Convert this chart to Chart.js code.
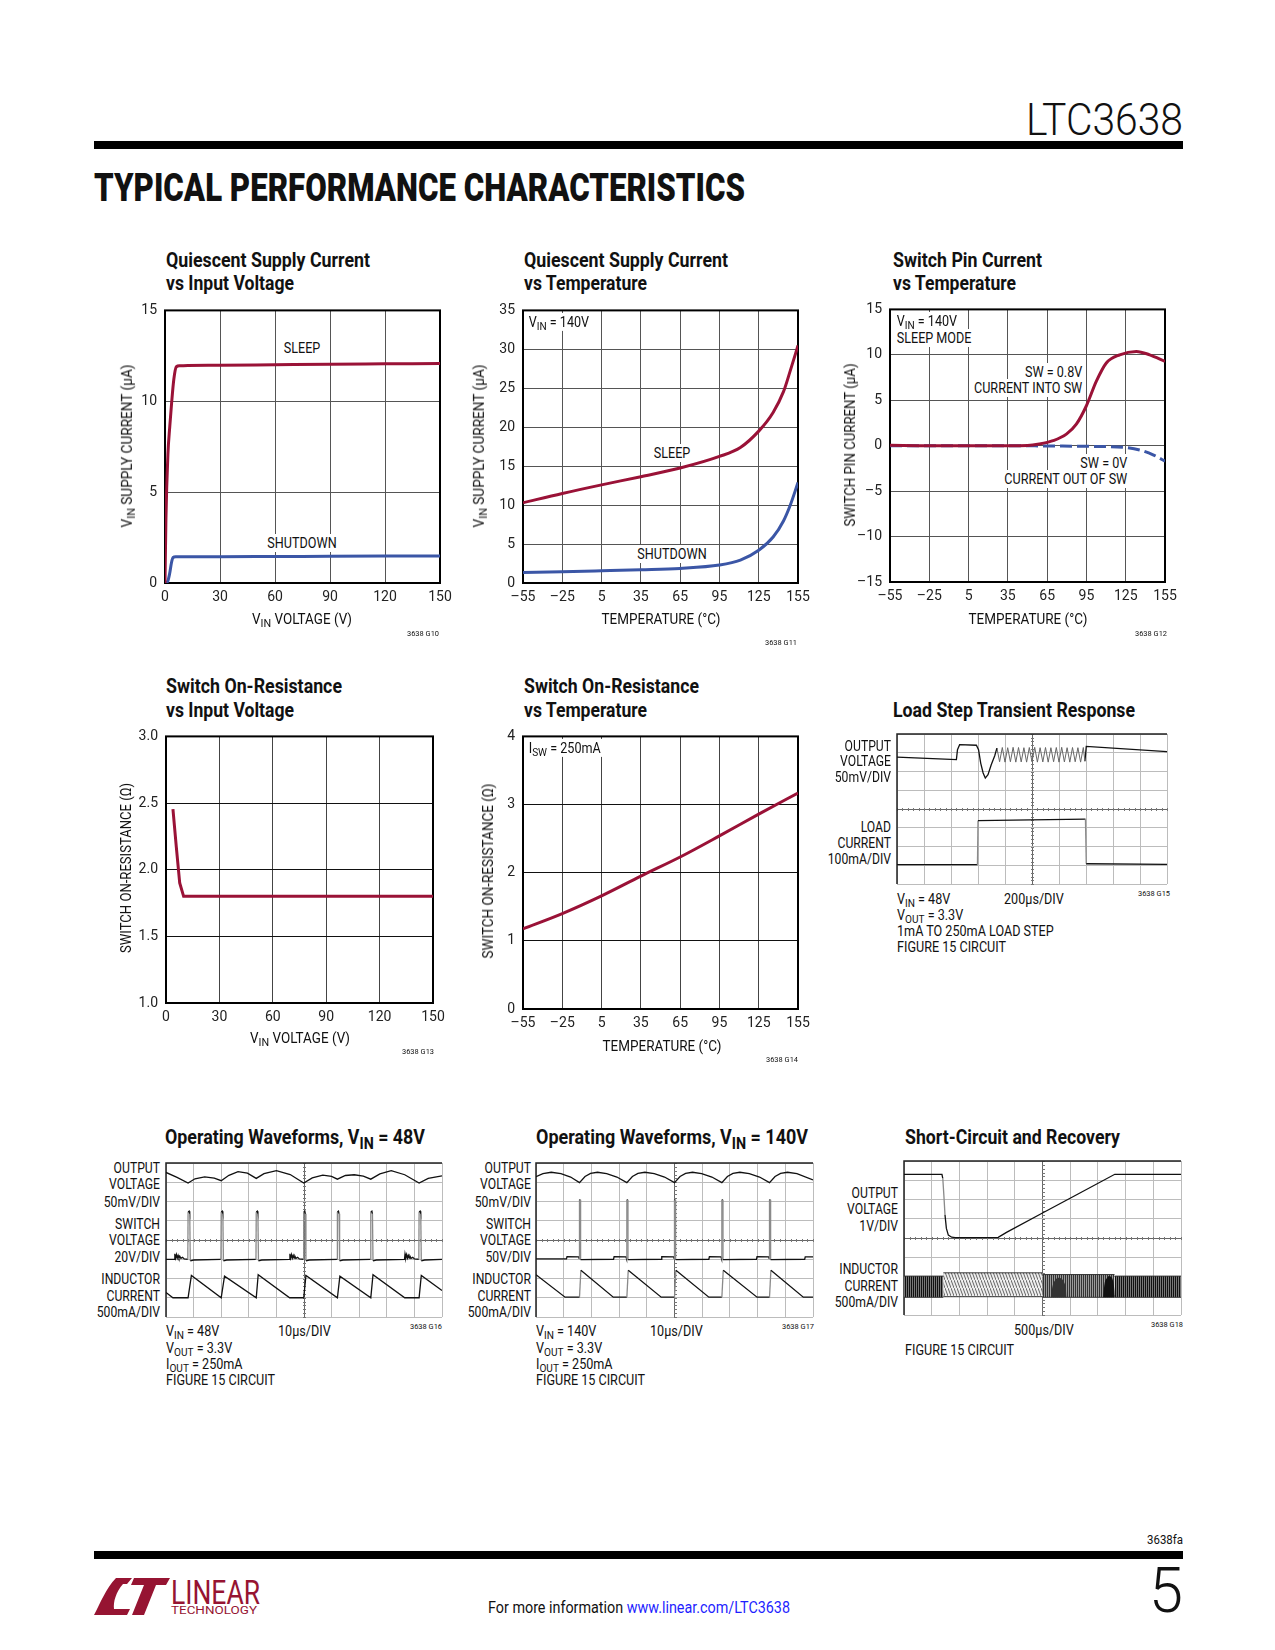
<!DOCTYPE html>
<html><head><meta charset="utf-8">
<script src="https://cdn.jsdelivr.net/npm/chart.js@4.4.1/dist/chart.umd.min.js"></script>
<style>
body{margin:0;background:#fff;}
#page{position:relative;width:1275px;height:1650px;overflow:hidden;background:#fff;font-family:Roboto,'Liberation Sans',sans-serif;color:#111;}
.t{position:absolute;white-space:nowrap;line-height:1;}
.t sub{font-size:0.8em;vertical-align:baseline;position:relative;top:0.28em;}
canvas{position:absolute;}
.bar{position:absolute;background:#000;}
</style></head>
<body><div id="page"></div>
<script>
// ---------------- DATA ----------------
// Quiescent supply current vs input voltage
const qv_vin      = [0, 0.5, 1.6, 2.6, 3.6, 4.8, 6.2, 8, 10, 30, 60, 90, 120, 150];
const qv_sleep    = [0, 3.5, 7.1, 8.6, 9.9, 11.2, 11.9, 11.95, 11.96, 11.98, 12.01, 12.04, 12.06, 12.08];
const qv_vin_sd   = [0, 1.5, 2.5, 3.5, 4.4, 6, 10, 30, 60, 90, 120, 150];
const qv_shutdown = [0, 0.1, 0.5, 1.1, 1.4, 1.44, 1.45, 1.45, 1.46, 1.47, 1.48, 1.49];
// Quiescent supply current vs temperature
const qt_temp     = [-55, -25, 5, 35, 65, 95, 111, 125, 136, 144, 149, 155];
const qt_sleep    = [10.3, 11.5, 12.6, 13.65, 14.76, 16.25, 17.4, 19.5, 21.9, 24.6, 27.2, 30.5];
const qt_shutdown = [1.36, 1.45, 1.57, 1.7, 1.87, 2.3, 2.93, 4.2, 5.9, 8.0, 9.95, 12.9];
// Switch pin current vs temperature
const sp_temp     = [-55, -25, 5, 35, 50, 59, 69.5, 79.7, 87.3, 94.9, 102.6, 110.2, 120.4, 133.1, 143.3, 155];
const sp_into     = [0.05, 0, 0, 0, 0.02, 0.18, 0.55, 1.27, 2.37, 4.37, 7.1, 9.1, 10.0, 10.38, 10.0, 9.28];
const sp_temp_out = [-55, -25, 5, 35, 65, 97.5, 123, 135.6, 145.9, 155];
const sp_out      = [0, 0, 0, 0, -0.03, -0.07, -0.18, -0.47, -1.0, -1.7];
// Switch on-resistance vs input voltage
const rv_vin      = [3.9, 5.8, 7.7, 9.9, 30, 60, 90, 120, 150];
const rv_res      = [2.455, 2.17, 1.90, 1.80, 1.80, 1.80, 1.80, 1.80, 1.80];
// Switch on-resistance vs temperature
const rt_temp     = [-55, -25, 5, 35, 65, 95, 125, 155];
const rt_res      = [1.176, 1.40, 1.66, 1.95, 2.23, 2.54, 2.86, 3.17];
// tick labels
const xt_volt = [0, 30, 60, 90, 120, 150];
const xt_temp = [-55, -25, 5, 35, 65, 95, 125, 155];
const yt_q1 = [0, 5, 10, 15];
const yt_q2 = [0, 5, 10, 15, 20, 25, 30, 35];
const yt_sp = [-15, -10, -5, 0, 5, 10, 15];
const yt_r1 = [1.0, 1.5, 2.0, 2.5, 3.0];
const yt_r2 = [0, 1, 2, 3, 4];

// Scope traces, [time div, level div] (10 x 8 divisions)
const lsVoutA = [[0,6.77],[2.20,6.63],[2.24,7.16],[2.32,7.43],[2.94,7.40],[3.02,7.16],[3.10,6.45],[3.19,5.92],[3.27,5.65],[3.37,5.83],[3.49,6.36],[3.62,6.84],[3.70,7.25]];
const lsRipple = [[3.70,7.25],[3.80,6.52],[3.90,7.28],[4.00,6.50],[4.10,7.27],[4.20,6.52],[4.30,7.29],[4.40,6.50],[4.50,7.28],[4.60,6.51],[4.70,7.27],[4.80,6.50],[4.90,7.28],[5.00,6.52],[5.10,7.29],[5.20,6.50],[5.30,7.27],[5.40,6.51],[5.50,7.28],[5.60,6.50],[5.70,7.27],[5.80,6.52],[5.90,7.28],[6.00,6.50],[6.10,7.29],[6.20,6.51],[6.30,7.27],[6.40,6.50],[6.50,7.28],[6.60,6.52],[6.70,7.27],[6.80,6.50],[6.90,7.28],[6.96,6.55]];
const lsVoutB = [[6.96,6.55],[7.01,7.34],[10,7.06]];
const lsLoad = [[0,1.03],[2.98,1.03],[3.00,3.38],[4.30,3.41],[6.98,3.46],[7.01,1.08],[10,1.05]];

const ow48Vout = [[0,7.51],[0.40,7.25],[0.80,6.96],[1.05,7.18],[1.40,7.28],[1.75,7.21],[2.00,7.08],[2.28,7.36],[2.61,7.55],[2.95,7.47],[3.27,7.20],[3.55,7.45],[4.00,7.60],[4.50,7.40],[4.99,6.96],[5.30,7.23],[5.68,7.37],[6.00,7.30],[6.21,7.16],[6.50,7.35],[6.82,7.39],[7.15,7.32],[7.42,7.16],[7.75,7.43],[8.16,7.60],[8.65,7.39],[9.17,6.96],[9.50,7.20],[10,7.33]];
const ow48Sw = [[0,2.99],[0.30,2.99],[0.32,3.28],[0.35,3.06],[0.38,3.24],[0.41,3.06],[0.44,3.2],[0.47,3.06],[0.50,3.16],[0.54,3.05],[0.60,3.1],[0.66,3.02],[0.79,3.0],
 [0.80,5.45],[0.84,5.50],[0.86,5.36],[0.88,2.92],[1.00,2.96],
 [1.99,2.99],[2.00,5.45],[2.04,5.50],[2.06,5.36],[2.08,2.92],[2.20,2.96],
 [3.26,2.99],[3.27,5.45],[3.31,5.50],[3.33,5.36],[3.35,2.92],[3.47,2.96],
 [4.47,2.99],[4.49,3.28],[4.52,3.06],[4.55,3.24],[4.58,3.06],[4.61,3.2],[4.64,3.06],[4.67,3.16],[4.71,3.05],[4.77,3.1],[4.83,3.02],[4.98,3.0],
 [4.99,5.45],[5.03,5.50],[5.05,5.36],[5.07,2.92],[5.19,2.96],
 [6.20,2.99],[6.21,5.45],[6.25,5.50],[6.27,5.36],[6.29,2.92],[6.41,2.96],
 [7.41,2.99],[7.42,5.45],[7.46,5.50],[7.48,5.36],[7.50,2.92],[7.62,2.96],
 [8.64,2.99],[8.66,3.28],[8.69,3.06],[8.72,3.24],[8.75,3.06],[8.78,3.2],[8.81,3.06],[8.84,3.16],[8.88,3.05],[8.94,3.1],[9.00,3.02],[9.16,3.0],
 [9.17,5.45],[9.21,5.50],[9.23,5.36],[9.25,2.92],[9.37,2.96],[10,2.99]];
const ow48IL = [[0,1.27],[0.25,1.0],[0.80,1.0],[0.92,2.16],[2.00,1.0],[2.12,2.12],[3.27,1.0],[3.34,2.20],[4.48,1.0],[4.99,1.0],[5.07,2.16],[6.21,1.0],[6.30,2.12],[7.42,1.0],[7.50,2.20],[8.65,1.0],[9.17,1.0],[9.25,2.16],[10,1.38]];

const ow140Vout = [[0,7.29],[0.25,7.45],[0.55,7.52],[0.90,7.45],[1.25,7.27],[1.57,6.98],[1.77,7.30],[1.97,7.46],[2.22,7.52],[2.55,7.45],[2.92,7.27],[3.28,6.98],[3.48,7.30],[3.68,7.46],[3.93,7.52],[4.27,7.45],[4.64,7.27],[5.00,6.98],[5.20,7.30],[5.40,7.46],[5.65,7.52],[5.98,7.45],[6.35,7.27],[6.71,6.98],[6.91,7.30],[7.11,7.46],[7.36,7.52],[7.70,7.45],[8.07,7.27],[8.43,6.98],[8.63,7.30],[8.83,7.46],[9.08,7.52],[9.42,7.45],[10,7.12]];
const ow140Sw = [[0,3.02],[1.10,3.02],[1.12,3.14],[1.54,3.12],[1.56,3.02],[1.57,6.09],[1.60,6.09],[1.61,2.98],[2.80,3.0],[2.82,3.14],[3.25,3.12],[3.27,3.02],[3.28,6.09],[3.31,6.09],[3.32,2.98],[4.52,3.0],[4.54,3.14],[4.97,3.12],[4.99,3.02],[5.00,6.09],[5.03,6.09],[5.04,2.98],[6.24,3.0],[6.26,3.14],[6.68,3.12],[6.70,3.02],[6.71,6.09],[6.74,6.09],[6.75,2.98],[7.96,3.0],[7.98,3.14],[8.40,3.12],[8.42,3.02],[8.43,6.09],[8.46,6.09],[8.47,2.98],[9.70,3.0],[9.72,3.12],[10,3.12]];
const ow140IL = [[0,2.20],[1.05,1.03],[1.57,1.03],[1.62,2.43],[2.79,1.03],[3.28,1.03],[3.33,2.43],[4.52,1.03],[5.00,1.03],[5.05,2.43],[6.24,1.03],[6.71,1.03],[6.76,2.43],[7.98,1.03],[8.43,1.03],[8.48,2.43],[9.65,1.03],[10,1.03]];

const scVout = [[0,7.31],[1.37,7.31],[1.40,7.1],[1.44,6.2],[1.48,5.2],[1.53,4.5],[1.60,4.15],[1.72,4.04],[1.85,4.02],[3.40,4.03],[3.55,4.16],[3.70,4.29],[5.00,5.30],[6.30,6.30],[7.61,7.31],[10,7.31]];
const scBand1Up = [[0,2.02],[1.42,2.02]], scBand1Lo = [[0,0.92],[1.42,0.92]];
const scBand2Up = [[1.42,2.19],[5.0,2.19]], scBand2Lo = [[1.42,0.95],[5.0,0.95]];
const scBand3Up = [[5.0,2.1],[7.6,2.1]],   scBand3Lo = [[5.0,0.92],[7.6,0.92]];
const scBand4Up = [[7.6,2.02],[10,2.02]],  scBand4Lo = [[7.6,0.92],[10,0.92]];
const scDome1 = [[5.3,0.92],[5.38,1.6],[5.5,1.88],[5.6,1.93],[5.72,1.85],[5.82,1.55],[5.87,0.92]];
const scDome2 = [[7.19,0.92],[7.25,1.7],[7.35,1.97],[7.42,2.02],[7.52,1.9],[7.58,1.5],[7.61,0.92]];

// ---------------- HELPERS ----------------
const page = document.getElementById('page');
const RED = '#9a1237', BLUE = '#3b56a6';
Chart.defaults.font.family = 'Roboto';

function T(x, y, html, o) {
  o = o || {};
  const e = document.createElement('div');
  e.className = 't'; e.innerHTML = html;
  e.style.fontSize = (o.fs || 14) + 'px';
  e.style.fontWeight = o.fw || 400;
  if (o.col) e.style.color = o.col;
  const a = o.a || 'l';
  let pad = 0;
  if (o.bg) { e.style.background = '#fff'; e.style.padding = '2px 3px'; pad = 6; if (a === 'l') x -= 3; if (a === 'r') x += 3; }
  e.style.left = x + 'px'; e.style.top = y + 'px';
  page.appendChild(e);
  let s = o.sx || 0.9;
  if (o.w) s = o.w / (e.getBoundingClientRect().width - pad);
  if (o.rot) {
    e.style.transformOrigin = '50% 50%';
    e.style.transform = `translate(-50%,-50%) rotate(-90deg) scaleX(${s})`;
  } else {
    const tx = a === 'l' ? '0' : a === 'r' ? '-100%' : '-50%';
    const ox = a === 'l' ? '0%' : a === 'r' ? '100%' : '50%';
    e.style.transformOrigin = ox + ' 50%';
    e.style.transform = `translate(${tx},-50%) scaleX(${s})`;
  }
  return e;
}
function bar(x, y, w, h) {
  const d = document.createElement('div'); d.className = 'bar';
  Object.assign(d.style, {left: x + 'px', top: y + 'px', width: w + 'px', height: h + 'px'});
  page.appendChild(d);
}
function mkCanvas(x, y, w, h) {
  const c = document.createElement('canvas');
  c.width = w; c.height = h;
  Object.assign(c.style, {left: x + 'px', top: y + 'px', width: w + 'px', height: h + 'px'});
  page.appendChild(c);
  return c;
}
const xy = (xs, ys) => xs.map((x, i) => ({x: x, y: ys[i]}));
const pts = arr => arr.map(p => ({x: p[0], y: p[1]}));
const dash = v => (v < 0 ? '\u2013' + Math.abs(v) : String(v));

const framePlugin = {id: 'frame', beforeDatasetsDraw(ch) {
  const {ctx, chartArea: a} = ch;
  ctx.save(); ctx.strokeStyle = '#000'; ctx.lineWidth = 2;
  ctx.strokeRect(a.left, a.top, a.right - a.left, a.bottom - a.top);
  ctx.restore();
}};

function axisChart(L, Tp, W, H, c) {
  const cv = mkCanvas(L - 60, Tp - 15, W + 85, H + 45);
  return new Chart(cv, {
    type: 'line',
    data: {datasets: c.datasets},
    options: {
      responsive: false, animation: false,
      layout: {padding: {top: 15, right: 25, left: 0, bottom: 0}},
      plugins: {legend: {display: false}, tooltip: {enabled: false}},
      elements: {point: {radius: 0}},
      scales: {
        x: {type: 'linear', min: c.xmin, max: c.xmax,
            afterBuildTicks: s => { s.ticks = c.xticks.map(v => ({value: v})); },
            afterFit: s => { s.height = 30; },
            ticks: {padding: 6, maxRotation: 0, autoSkip: false, color: '#222', font: {size: 14}, callback: v => dash(v)},
            grid: {color: c.vgrid || '#555', lineWidth: 1, drawTicks: false},
            border: {display: false}},
        y: {type: 'linear', min: c.ymin, max: c.ymax,
            afterBuildTicks: s => { s.ticks = c.yticks.map(v => ({value: v})); },
            afterFit: s => { s.width = 60; },
            ticks: {padding: 8, color: '#222', font: {size: 14}, callback: c.yfmt || (v => dash(v))},
            grid: {color: c.hgrid || '#555', lineWidth: 1, drawTicks: false},
            border: {display: false}}
      }
    },
    plugins: [framePlugin]
  });
}
function curve(data, color, extra) {
  return Object.assign({data: data, borderColor: color, borderWidth: 3, pointRadius: 0, cubicInterpolationMode: 'monotone', fill: false}, extra || {});
}

const scopePlugin = {id: 'scope', beforeDatasetsDraw(ch) {
  const {ctx, chartArea: a, scales: {x, y}} = ch;
  ctx.save();
  ctx.strokeStyle = '#777'; ctx.lineWidth = 1;
  const cx = Math.round(x.getPixelForValue(5)) + 0.5, cy = Math.round(y.getPixelForValue(4)) + 0.5;
  ctx.beginPath();
  for (let i = 0; i <= 50; i++) { const px = Math.round(x.getPixelForValue(i * 0.2)) + 0.5; ctx.moveTo(px, cy - 1.5); ctx.lineTo(px, cy + 1.5); }
  for (let i = 0; i <= 40; i++) { const py = Math.round(y.getPixelForValue(i * 0.2)) + 0.5; ctx.moveTo(cx - 1.5, py); ctx.lineTo(cx + 1.5, py); }
  ctx.stroke();
  ctx.strokeStyle = '#222'; ctx.lineWidth = 1.5;
  ctx.beginPath(); ctx.moveTo(a.left, a.bottom); ctx.lineTo(a.left, a.top); ctx.lineTo(a.right, a.top); ctx.stroke();
  ctx.restore();
}};
function scopeChart(L, Tp, W, H, datasets) {
  const cv = mkCanvas(L - 1, Tp - 1, W + 2, H + 2);
  return new Chart(cv, {
    type: 'line',
    data: {datasets: datasets},
    options: {
      responsive: false, animation: false,
      layout: {padding: 1},
      plugins: {legend: {display: false}, tooltip: {enabled: false}},
      elements: {point: {radius: 0}},
      scales: {
        x: {type: 'linear', min: 0, max: 10, ticks: {display: false, stepSize: 1}, afterFit: s => { s.height = 0; },
            grid: {drawTicks: false, lineWidth: 1, color: c => (c.tick && c.tick.value === 5 ? '#666' : '#bcbcbc')}, border: {display: false}},
        y: {type: 'linear', min: 0, max: 8, ticks: {display: false, stepSize: 1}, afterFit: s => { s.width = 0; },
            grid: {drawTicks: false, lineWidth: 1, color: c => (c.tick && c.tick.value === 4 ? '#666' : '#bcbcbc')}, border: {display: false}}
      }
    },
    plugins: [scopePlugin]
  });
}
const fastGray = {borderColor: c => (Math.abs((c.p1.parsed.y - c.p0.parsed.y) / ((c.p1.parsed.x - c.p0.parsed.x) || 1e-6)) > 20 ? '#8a8a8a' : undefined)};
function trace(arr, color, w) {
  return {data: pts(arr), borderColor: color || '#111', borderWidth: w || 1.3, pointRadius: 0, tension: 0, fill: false, segment: fastGray};
}
function pattern(w, h, draw) {
  const c = document.createElement('canvas'); c.width = w; c.height = h;
  const g = c.getContext('2d'); draw(g);
  return g.createPattern(c, 'repeat');
}

// ---------------- HEADER / FOOTER ----------------
T(1183, 119, 'LTC3638', {a: 'r', fs: 45, fw: 300, w: 157});
bar(94, 141, 1089, 8);
T(94, 188, 'TYPICAL PERFORMANCE CHARACTERISTICS', {fs: 39, fw: 900, w: 651});
T(1183, 1540, '3638fa', {a: 'r', fs: 12, w: 36});
bar(94, 1551, 1089, 8);
T(488, 1608, 'For more information <span style="color:#1f1fff">www.linear.com/LTC3638</span>', {fs: 16, w: 302});
T(1183, 1590, '5', {a: 'r', fs: 63, fw: 300, w: 34});
(function logo() {
  const ns = 'http://www.w3.org/2000/svg';
  const s = document.createElementNS(ns, 'svg');
  s.setAttribute('width', '78'); s.setAttribute('height', '38');
  Object.assign(s.style, {position: 'absolute', left: '94px', top: '1578px'});
  s.innerHTML = '<path d="M22,0 L38,0 L33,6 L29,6 C22,14 19,24 20,31 L36,31 L33,37 L0,37 C6,26 12,10 22,0 Z" fill="#961432"/>' +
    '<path d="M40,0 L76,0 L72,7 L62,7 L50,37 L38,37 L50,7 L37,7 Z" fill="#961432"/>';
  page.appendChild(s);
})();
T(171, 1592, 'LINEAR', {fs: 34, fw: 400, w: 89, col: '#961432'});
T(171, 1610, 'TECHNOLOGY', {fs: 11, w: 86, col: '#961432'});

// ---------------- CHART 1 ----------------
T(166, 259.5, 'Quiescent Supply Current', {fs: 21, fw: 700, w: 204});
T(166, 282.5, 'vs Input Voltage', {fs: 21, fw: 700, w: 128});
axisChart(165, 309, 275, 274, {xmin: 0, xmax: 150, xticks: xt_volt, ymin: 0, ymax: 15, yticks: yt_q1,
  datasets: [curve(xy(qv_vin, qv_sleep), RED), curve(xy(qv_vin_sd, qv_shutdown), BLUE)]});
T(127, 446, 'V<sub>IN</sub> SUPPLY CURRENT (\u00b5A)', {rot: 1, w: 163});
T(302, 619, 'V<sub>IN</sub> VOLTAGE (V)', {a: 'c', w: 100});
T(302, 348, 'SLEEP', {a: 'c', bg: 1});
T(302, 543, 'SHUTDOWN', {a: 'c', bg: 1});
T(439, 634, '3638 G10', {a: 'r', fs: 8, w: 32});

// ---------------- CHART 2 ----------------
T(524, 259.5, 'Quiescent Supply Current', {fs: 21, fw: 700, w: 204});
T(524, 282.5, 'vs Temperature', {fs: 21, fw: 700, w: 123});
axisChart(523, 309, 275, 274, {xmin: -55, xmax: 155, xticks: xt_temp, ymin: 0, ymax: 35, yticks: yt_q2,
  datasets: [curve(xy(qt_temp, qt_sleep), RED), curve(xy(qt_temp, qt_shutdown), BLUE)]});
T(479, 446, 'V<sub>IN</sub> SUPPLY CURRENT (\u00b5A)', {rot: 1, w: 163});
T(661, 619, 'TEMPERATURE (\u00b0C)', {a: 'c', w: 119});
T(529, 322, 'V<sub>IN</sub> = 140V', {bg: 1});
T(672, 453, 'SLEEP', {a: 'c', bg: 1});
T(672, 554, 'SHUTDOWN', {a: 'c', bg: 1});
T(797, 643, '3638 G11', {a: 'r', fs: 8, w: 32});

// ---------------- CHART 3 ----------------
T(893, 259.5, 'Switch Pin Current', {fs: 21, fw: 700, w: 149});
T(893, 282.5, 'vs Temperature', {fs: 21, fw: 700, w: 123});
axisChart(890, 308, 275, 274, {xmin: -55, xmax: 155, xticks: xt_temp, ymin: -15, ymax: 15, yticks: yt_sp,
  datasets: [curve(xy(sp_temp, sp_into), RED), curve(xy(sp_temp_out, sp_out), BLUE, {borderDash: [12, 5]})]});
T(850, 445, 'SWITCH PIN CURRENT (\u00b5A)', {rot: 1, w: 163});
T(1028, 619, 'TEMPERATURE (\u00b0C)', {a: 'c', w: 119});
T(897, 321, 'V<sub>IN</sub> = 140V', {bg: 1});
T(897, 338, 'SLEEP MODE', {bg: 1});
T(1082, 372, 'SW = 0.8V', {a: 'r', bg: 1});
T(1082, 388, 'CURRENT INTO SW', {a: 'r', bg: 1});
T(1127, 463, 'SW = 0V', {a: 'r', bg: 1});
T(1127, 479, 'CURRENT OUT OF SW', {a: 'r', bg: 1});
T(1167, 634, '3638 G12', {a: 'r', fs: 8, w: 32});

// ---------------- CHART 4 ----------------
T(166, 686, 'Switch On-Resistance', {fs: 21, fw: 700, w: 176});
T(166, 710, 'vs Input Voltage', {fs: 21, fw: 700, w: 128});
axisChart(166, 735, 267, 268, {xmin: 0, xmax: 150, xticks: xt_volt, ymin: 1, ymax: 3, yticks: yt_r1, yfmt: v => v.toFixed(1),
  hgrid: '#111', vgrid: '#444',
  datasets: [curve(xy(rv_vin, rv_res), RED, {cubicInterpolationMode: 'default', tension: 0})]});
T(126, 868, 'SWITCH ON-RESISTANCE (\u03a9)', {rot: 1, w: 170});
T(300, 1038, 'V<sub>IN</sub> VOLTAGE (V)', {a: 'c', w: 100});
T(434, 1052, '3638 G13', {a: 'r', fs: 8, w: 32});

// ---------------- CHART 5 ----------------
T(524, 686, 'Switch On-Resistance', {fs: 21, fw: 700, w: 175});
T(524, 710, 'vs Temperature', {fs: 21, fw: 700, w: 123});
axisChart(523, 735, 275, 274, {xmin: -55, xmax: 155, xticks: xt_temp, ymin: 0, ymax: 4, yticks: yt_r2,
  hgrid: '#111', vgrid: '#444',
  datasets: [curve(xy(rt_temp, rt_res), RED)]});
T(488, 871, 'SWITCH ON-RESISTANCE (\u03a9)', {rot: 1, w: 175});
T(662, 1046, 'TEMPERATURE (\u00b0C)', {a: 'c', w: 119});
T(529, 748, 'I<sub>SW</sub> = 250mA', {bg: 1});
T(798, 1060, '3638 G14', {a: 'r', fs: 8, w: 32});

// ---------------- CHART 6: LOAD STEP ----------------
T(893, 710, 'Load Step Transient Response', {fs: 21, fw: 700, w: 242});
scopeChart(897, 734, 270, 150, [trace(lsVoutA), trace(lsRipple, '#666', 1), trace(lsVoutB), trace(lsLoad)]);
[['OUTPUT', 746], ['VOLTAGE', 761], ['50mV/DIV', 777], ['LOAD', 827], ['CURRENT', 843], ['100mA/DIV', 859]].forEach(p => T(891, p[1], p[0], {a: 'r', sx: 0.87}));
T(897, 899, 'V<sub>IN</sub> = 48V');
T(1004, 899, '200\u00b5s/DIV');
T(897, 915, 'V<sub>OUT</sub> = 3.3V');
T(897, 931, '1mA TO 250mA LOAD STEP');
T(897, 947, 'FIGURE 15 CIRCUIT');
T(1170, 894, '3638 G15', {a: 'r', fs: 8, w: 32});

// ---------------- CHART 7: 48V ----------------
T(165, 1137, 'Operating Waveforms, V<sub>IN</sub> = 48V', {fs: 21, fw: 700, w: 260});
scopeChart(166, 1163, 276, 154, [trace(ow48Vout), trace(ow48Sw), trace(ow48IL)]);
const scopeLbl3 = (xr, sw) => [['OUTPUT', 1168], ['VOLTAGE', 1184], ['50mV/DIV', 1202], ['SWITCH', 1224], ['VOLTAGE', 1240], [sw, 1257], ['INDUCTOR', 1279], ['CURRENT', 1296], ['500mA/DIV', 1312]].forEach(p => T(xr, p[1], p[0], {a: 'r', sx: 0.87}));
scopeLbl3(160, '20V/DIV');
T(166, 1331, 'V<sub>IN</sub> = 48V');
T(278, 1331, '10\u00b5s/DIV');
T(166, 1348, 'V<sub>OUT</sub> = 3.3V');
T(166, 1364, 'I<sub>OUT</sub> = 250mA');
T(166, 1380, 'FIGURE 15 CIRCUIT');
T(442, 1327, '3638 G16', {a: 'r', fs: 8, w: 32});

// ---------------- CHART 8: 140V ----------------
T(536, 1137, 'Operating Waveforms, V<sub>IN</sub> = 140V', {fs: 21, fw: 700, w: 272});
scopeChart(536, 1163, 277, 154, [trace(ow140Vout), trace(ow140Sw), trace(ow140IL)]);
scopeLbl3(531, '50V/DIV');
T(536, 1331, 'V<sub>IN</sub> = 140V');
T(650, 1331, '10\u00b5s/DIV');
T(536, 1348, 'V<sub>OUT</sub> = 3.3V');
T(536, 1364, 'I<sub>OUT</sub> = 250mA');
T(536, 1380, 'FIGURE 15 CIRCUIT');
T(814, 1327, '3638 G17', {a: 'r', fs: 8, w: 32});

// ---------------- CHART 9: SHORT CIRCUIT ----------------
T(905, 1137, 'Short-Circuit and Recovery', {fs: 21, fw: 700, w: 215});
const pDark = pattern(2, 4, g => { g.fillStyle = '#777'; g.fillRect(0, 0, 2, 4); g.fillStyle = '#111'; g.fillRect(0, 0, 1, 4); });
const pMid = pattern(2, 4, g => { g.fillStyle = '#9a9a9a'; g.fillRect(0, 0, 2, 4); g.fillStyle = '#333'; g.fillRect(0, 0, 1, 4); });
const pLight = pattern(3, 8, g => { g.fillStyle = '#eee'; g.fillRect(0, 0, 3, 8); g.strokeStyle = '#666'; g.lineWidth = 1; g.beginPath(); g.moveTo(0, 0); g.lineTo(3, 8); g.stroke(); });
const band = (arr, col, fillOpt) => ({data: pts(arr), borderColor: '#333', borderWidth: 1, pointRadius: 0, tension: 0, fill: fillOpt, backgroundColor: col});
scopeChart(904, 1161, 277, 154, [
  trace(scVout),
  {data: pts(scDome2), borderWidth: 0, pointRadius: 0, tension: 0.3, fill: {value: 0.92}, backgroundColor: '#111'},
  {data: pts(scDome1), borderWidth: 0, pointRadius: 0, tension: 0.3, fill: {value: 0.92}, backgroundColor: '#333'},
  band(scBand1Up, pDark, false), band(scBand1Lo, pDark, '-1'),
  band(scBand2Up, pLight, false), band(scBand2Lo, pLight, '-1'),
  band(scBand3Up, pMid, false), band(scBand3Lo, pMid, '-1'),
  band(scBand4Up, pDark, false), band(scBand4Lo, pDark, '-1')
]);
[['OUTPUT', 1193], ['VOLTAGE', 1209], ['1V/DIV', 1226], ['INDUCTOR', 1269], ['CURRENT', 1286], ['500mA/DIV', 1302]].forEach(p => T(898, p[1], p[0], {a: 'r', sx: 0.87}));
T(1014, 1330, '500\u00b5s/DIV');
T(905, 1350, 'FIGURE 15 CIRCUIT');
T(1183, 1325, '3638 G18', {a: 'r', fs: 8, w: 32});
</script>
</body></html>
